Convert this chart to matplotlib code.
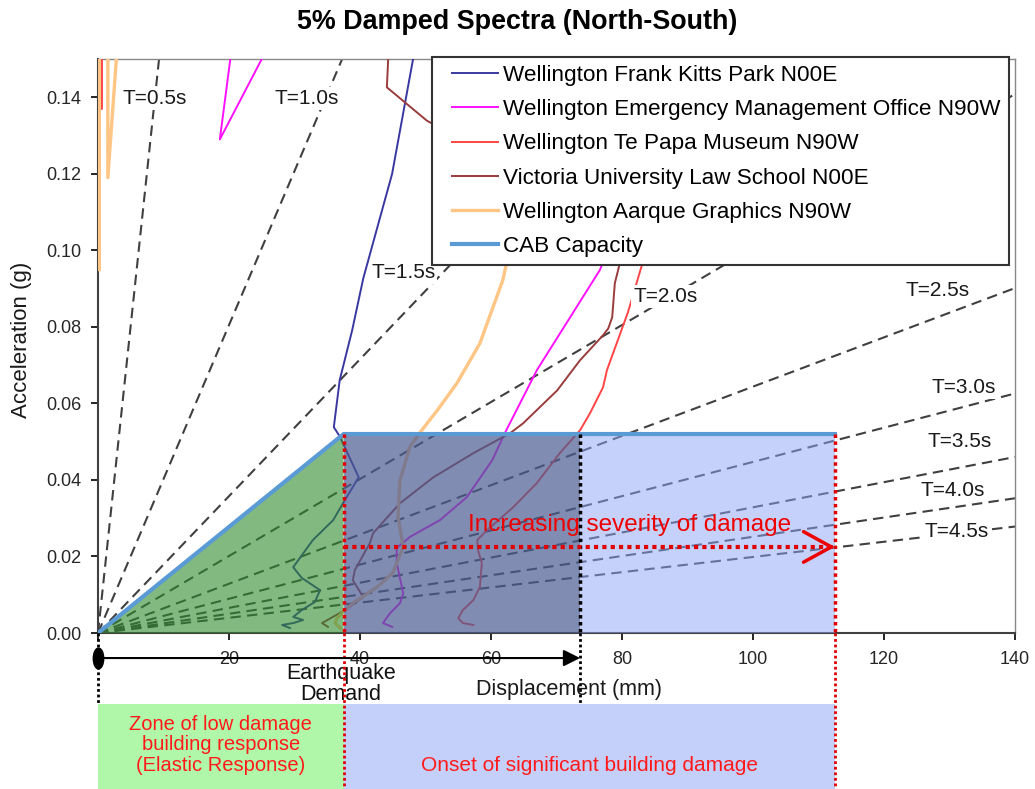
import numpy as np
import matplotlib
matplotlib.use('Agg')
import matplotlib.pyplot as plt
from matplotlib.patches import Rectangle, Polygon
from matplotlib.markers import MarkerStyle
from matplotlib.transforms import Affine2D
from matplotlib.lines import Line2D
from matplotlib.legend_handler import HandlerLine2D

nan = np.nan

# Spectral displacement (mm) and acceleration (g) for each record, NaN = break in line
frank_sd = [48.1, 44.9, 40.5, 38.8, 36.9, 36.0, 36.9, 39.8, 37.4, 35.9, 32.8, 29.8, 31.1,
            33.9, 33.1, 31.1, 29.8, 31.3, 29.8, 28.1, 29.3]
frank_sa = [0.150, 0.120, 0.0927, 0.0791, 0.0661, 0.0538, 0.0514, 0.0407, 0.0339, 0.0295,
            0.0243, 0.0172, 0.0144, 0.0112, 0.0081, 0.0060, 0.0042, 0.0034, 0.0026, 0.0021, 0.0013]

emo_sd = [20.2, 18.6, 25.0, nan, 77.9, 77.1, 76.6, 67.0, 62.1, 60.2, 56.3, 52.2, 47.6, 45.6,
          45.6, 46.6, 46.1, 44.6, 43.5, 44.9]
emo_sa = [0.150, 0.129, 0.150, nan, 0.100, 0.0969, 0.0948, 0.0687, 0.0522, 0.0452, 0.0355,
          0.0295, 0.0251, 0.0222, 0.0183, 0.0104, 0.0078, 0.0052, 0.0026, 0.0016]

tepapa_sd = [0.6, 0.6, nan, 83.5, 82.8, 80.9, 77.7, 77.1, 75.1, 73.6, 70.5, 67.0, 63.4, 59.4,
             57.9, 58.0, 58.6, 58.3, 57.3, 55.7, 55.0, 55.7, 57.3]
tepapa_sa = [0.150, 0.137, nan, 0.0987, 0.0948, 0.0838, 0.0687, 0.0642, 0.0574, 0.0530, 0.0470,
             0.0392, 0.0329, 0.0269, 0.0243, 0.0217, 0.0183, 0.0120, 0.0086, 0.0060, 0.0039,
             0.0026, 0.0021]

vuw_sd = [44.3, 44.1, 50.2, 52.2, nan, 79.9, 79.7, 79.4, 78.9, 78.5, 77.9, 77.1, 73.6, 70.1,
          64.9, 62.9, 57.3, 51.2, 46.1, 42.0, 41.5, 39.2, 38.9, 40.5, 37.7, 34.2, 35.1]
vuw_sa = [0.150, 0.1426, 0.1339, 0.132, nan, 0.0987, 0.0969, 0.0948, 0.0914, 0.0825, 0.0796,
          0.0778, 0.0713, 0.0634, 0.0548, 0.0522, 0.0470, 0.0407, 0.0339, 0.0261, 0.0235,
          0.0164, 0.0138, 0.0094, 0.0060, 0.0026, 0.0016]

aarque_sd = [0.2, 0.2, nan, 1.5, 1.5, 2.8, nan, 63.2, 62.4, 61.8, 58.3, 54.8, 51.8, 49.2, 47.6,
             46.1, 45.8, 46.6, 45.0, 42.6, 38.9, 37.7, 36.5, 36.2, 37.0]
aarque_sa = [0.095, 0.150, nan, 0.150, 0.119, 0.150, nan, 0.1026, 0.0969, 0.0922, 0.0757,
             0.0653, 0.0582, 0.0525, 0.0486, 0.0399, 0.0303, 0.0225, 0.0157, 0.0120, 0.0078,
             0.0060, 0.0039, 0.0026, 0.0013]

# CAB capacity curve (bilinear)
cab_sd = [0.0, 37.5, 112.5]
cab_sa = [0.0, 0.052, 0.052]

demand_sd = 73.6        # earthquake demand displacement
severity_sa = 0.0225    # level of the damage severity arrow

# Constant period lines and where their labels sit
periods = [0.5, 1.0, 1.5, 2.0, 2.5, 3.0, 3.5, 4.0, 4.5]
period_label_xy = [(8.7, 0.1397), (31.8, 0.1397), (46.6, 0.0943), (86.6, 0.0880),
                   (128.1, 0.0896), (132.1, 0.0642), (131.6, 0.0501), (130.5, 0.0373),
                   (131.1, 0.0264)]

xticks = [0, 20, 40, 60, 80, 100, 120, 140]
yticks = [0.00, 0.02, 0.04, 0.06, 0.08, 0.10, 0.12, 0.14]

plt.rcParams['font.family'] = ['Liberation Sans', 'DejaVu Sans']

fig = plt.figure(figsize=(10.35, 7.89), dpi=100)
ax = fig.add_axes([0.0947, 0.1977, 0.8860, 0.7275])
trans = ax.get_xaxis_transform()   # x in data, y in axes fraction

# period lines: Sa = (2pi/T)^2 * Sd / g
for T, (lx, ly) in zip(periods, period_label_xy):
    k = (2 * np.pi / T) ** 2 / 9.81 / 1000.0
    ax.plot([0, 140], [0, k * 140], color='#404040', lw=1.5, ls=(0, (5, 3)), zorder=2)
    ax.text(lx, ly, 'T=%.1fs' % T, fontsize=15, ha='center', va='center', color='#1a1a1a',
            bbox=dict(fc='white', ec='none', pad=1.5), zorder=3.5)

# response spectra
ax.plot(frank_sd, frank_sa, color='#3838a0', lw=1.4, zorder=3,
        label='Wellington Frank Kitts Park N00E')
ax.plot(emo_sd, emo_sa, color='#ff10ff', lw=1.4, zorder=3,
        label='Wellington Emergency Management Office N90W')
ax.plot(tepapa_sd, tepapa_sa, color='#ff4545', lw=1.4, zorder=3,
        label='Wellington Te Papa Museum N90W')
ax.plot(vuw_sd, vuw_sa, color='#9a3c3c', lw=1.4, zorder=3,
        label='Victoria University Law School N00E')
ax.plot(aarque_sd, aarque_sa, color='#ffc584', lw=2.4, zorder=3,
        label='Wellington Aarque Graphics N90W')

# damage zones under the capacity curve
ax.add_patch(Polygon([(cab_sd[0], cab_sa[0]), (cab_sd[1], cab_sa[1]), (cab_sd[1], 0)],
                     fc='#2e8b2e', ec='none', alpha=0.6, zorder=4))
ax.add_patch(Rectangle((cab_sd[1], 0), cab_sd[2] - cab_sd[1], cab_sa[2],
                       fc='#8da4f6', ec='none', alpha=0.5, zorder=4))
ax.add_patch(Rectangle((cab_sd[1], 0), demand_sd - cab_sd[1], cab_sa[2],
                       fc='#1a2545', ec='none', alpha=0.4, zorder=4.1))

ax.plot(cab_sd, cab_sa, color='#5b9bd5', lw=3, zorder=5, label='CAB Capacity')

# dotted limit lines, carried on below the axes
dots = (0, (1, 1))
for xv in [cab_sd[1], cab_sd[2]]:
    ax.plot([xv, xv], [cab_sa[1], 0], color='#e00000', lw=2.5, ls=dots, zorder=6)
    ax.plot([xv, xv], [0, -0.2718], color='#e00000', lw=2.0, ls=dots, transform=trans,
            clip_on=False, zorder=6)
ax.plot([demand_sd, demand_sd], [cab_sa[1], 0], color='black', lw=2.5, ls=dots, zorder=6)
for xv in [0, demand_sd]:
    ax.plot([xv, xv], [0, -0.1237], color='black', lw=2.0, ls=dots, transform=trans,
            clip_on=False, zorder=6)

# severity arrow
ax.plot([cab_sd[1], cab_sd[2]], [severity_sa, severity_sa], color='#e00000', lw=3, ls=dots,
        zorder=6)
ax.annotate('', xy=(cab_sd[2], severity_sa), xytext=(cab_sd[2] - 1.0, severity_sa),
            arrowprops=dict(arrowstyle='->,head_length=1.0,head_width=0.55', color='#ee0000',
                            lw=2.5, mutation_scale=20, shrinkA=0, shrinkB=0), zorder=7)
ax.text(81.2, 0.0282, 'Increasing severity of damage', color='#ee0000', fontsize=17.5,
        ha='center', va='center', zorder=7)

# earthquake demand arrow below the axis
ax.annotate('', xy=(demand_sd, -0.0436), xycoords=trans, xytext=(0, -0.0436), textcoords=trans,
            arrowprops=dict(arrowstyle='-|>,head_length=0.5,head_width=0.25', color='black',
                            lw=1.5, mutation_scale=20, shrinkA=0, shrinkB=0),
            annotation_clip=False, zorder=7)
ax.plot([0], [-0.0436], transform=trans, clip_on=False, color='black', ms=15, zorder=8,
        marker=MarkerStyle('o', transform=Affine2D().scale(0.5, 1.0)))
ax.text(37.1, -0.088, 'Earthquake\nDemand', transform=trans, fontsize=15.5, ha='center',
        va='center', linespacing=1.0, color='#111111')

# zone boxes along the bottom
ax.add_patch(Rectangle((0, -0.2718), cab_sd[1], 0.1481, transform=trans, fc='#b1f7aa',
                       ec='none', clip_on=False, zorder=1))
ax.add_patch(Rectangle((cab_sd[1], -0.2718), cab_sd[2] - cab_sd[1], 0.1481, transform=trans,
                       fc='#c4d0fa', ec='none', clip_on=False, zorder=1))
ax.text(cab_sd[1] / 2, -0.195, 'Zone of low damage\nbuilding response\n(Elastic Response)',
        transform=trans, fontsize=14.5, color='#ff1a1a', ha='center', va='center',
        linespacing=1.1)
ax.text((cab_sd[1] + cab_sd[2]) / 2, -0.231, 'Onset of significant building damage',
        transform=trans, fontsize=15, color='#ff1a1a', ha='center', va='center')

# axes
ax.set_xlim(0, 140)
ax.set_ylim(0, 0.15)
ax.set_xticks(xticks)
ax.set_xticklabels([str(t) if t else '' for t in xticks])
ax.set_yticks(yticks)
ax.set_yticklabels(['%.2f' % t for t in yticks])
ax.tick_params(axis='x', length=5, width=1.2, pad=8, labelsize=13, labelcolor='#262626')
ax.tick_params(axis='y', length=5, width=1.2, pad=7, labelsize=13, labelcolor='#262626')
for side in ['top', 'right']:
    ax.spines[side].set_color('#888888')
    ax.spines[side].set_linewidth(1.0)
for side in ['left', 'bottom']:
    ax.spines[side].set_color('#404040')
    ax.spines[side].set_linewidth(1.5)

# legend: handles pushed right inside their slot so the frame keeps a wide left margin
leg = ax.legend(loc='upper left', bbox_to_anchor=(0.3642, 1.0035), borderaxespad=0,
                fontsize=16.2, fancybox=False, framealpha=1, edgecolor='#333333',
                borderpad=0.35, labelspacing=0.59, handlelength=2.57, handletextpad=0.25,
                handler_map={Line2D: HandlerLine2D(xpad=0.54)})
leg.get_frame().set_linewidth(1.5)
leg.set_zorder(10)

fig.text(517 / 1035, 1 - 22 / 789, '5% Damped Spectra (North-South)', fontsize=19.4,
         weight='bold', ha='center', va='center')
fig.text(22 / 1035, 1 - 340 / 789, 'Acceleration (g)', fontsize=16, rotation=90,
         ha='center', va='center', color='#1a1a1a')
fig.text(569 / 1035, 1 - 689 / 789, 'Displacement (mm)', fontsize=15.5, ha='center',
         va='center', color='#1a1a1a')

fig.savefig('out.png', dpi=100)
